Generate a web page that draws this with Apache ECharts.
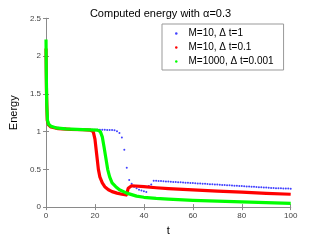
<!DOCTYPE html>
<html>
<head>
<meta charset="utf-8">
<script src="https://cdn.jsdelivr.net/npm/echarts@6/dist/echarts.min.js"></script>
<style>html,body{margin:0;padding:0;background:#fff}#c{width:321px;height:241px}</style>
</head>
<body>
<div id="c"></div>
<script>
// Series 1: M=10, dt=1  (t = 0..100 step 1)
const blueT = [0,1,2,3,4,5,6,7,8,9,10,11,12,13,14,15,16,17,18,19,20,21,22,23,24,25,26,27,28,29,30,31,32,33,34,35,36,37,38,39,40,41,42,43,44,45,46,47,48,49,50,51,52,53,54,55,56,57,58,59,60,61,62,63,64,65,66,67,68,69,70,71,72,73,74,75,76,77,78,79,80,81,82,83,84,85,86,87,88,89,90,91,92,93,94,95,96,97,98,99,100];
const blueE = [2.1,1.10,1.07,1.06,1.055,1.05,1.045,1.04,1.04,1.035,1.035,1.03,1.03,1.03,1.03,1.025,1.025,1.025,1.025,1.025,1.025,1.025,1.024,1.024,1.023,1.022,1.022,1.02,1.018,1.005,0.98,0.92,0.76,0.52,0.36,0.31,0.27,0.25,0.23,0.22,0.21,0.20,0.28,0.30,
0.350,0.348,0.346,0.344,0.342,0.340,0.338,0.336,0.334,0.332,0.330,
0.328,0.326,0.324,0.322,0.320,0.318,0.316,0.314,0.312,0.310,
0.308,0.306,0.304,0.302,0.300,0.298,0.296,0.294,0.292,0.290,
0.288,0.286,0.284,0.282,0.280,0.278,0.276,0.274,0.272,0.270,
0.268,0.266,0.264,0.262,0.260,0.258,0.256,0.254,0.252,0.250,
0.249,0.248,0.247,0.246,0.245,0.244];

// Series 2: M=10, dt=0.1 (read at key points)
const redT = [0,0.2,0.5,1,2,5,10,15,18,19.3,20,20.7,21.4,22,23,24,25.5,27,29,31,32.8,33.2,33.6,34.2,35,40,45,50,60,70,80,90,100];
const redE = [2.1,1.5,1.15,1.09,1.06,1.04,1.03,1.025,1.02,1.0,0.9,0.7,0.5,0.4,0.32,0.27,0.23,0.205,0.185,0.17,0.16,0.2,0.25,0.275,0.283,0.27,0.256,0.245,0.228,0.212,0.197,0.183,0.17];

// Series 3: M=1000, dt=0.001 (read at key points)
const greenT = [0,0.1,0.3,0.6,1,2,4,8,15,21,22.2,23,23.7,24.4,25.2,26,27,28.5,30,33,37,40,45,50,60,70,80,90,100];
const greenE = [2.22,1.8,1.35,1.15,1.1,1.07,1.05,1.035,1.025,1.02,1.0,0.93,0.8,0.66,0.5,0.4,0.32,0.27,0.23,0.185,0.145,0.13,0.115,0.105,0.09,0.079,0.068,0.058,0.05];

const seriesNames = ['M=10, \u0394 t=1', 'M=10, \u0394 t=0.1', 'M=1000, \u0394 t=0.001'];
const xTicks = [0, 20, 40, 60, 80, 100];
const yTicks = [0, 0.5, 1, 1.5, 2, 2.5];

const zip = (a, b) => a.map((v, i) => [v, b[i]]);
const FONT = 'Liberation Sans, Arial, Helvetica, sans-serif';
const axisCol = '#8a8a8a';

const chart = echarts.init(document.getElementById('c'), null, {renderer: 'canvas'});
const baseX = {
  type: 'value', min: xTicks[0], max: xTicks[xTicks.length - 1], interval: xTicks[1] - xTicks[0],
  axisLine: {show: true, lineStyle: {color: axisCol, width: 1}},
  axisTick: {show: true, inside: true, length: 3, lineStyle: {color: axisCol}},
  splitLine: {show: false}
};
const baseY = {
  type: 'value', min: yTicks[0], max: yTicks[yTicks.length - 1], interval: yTicks[1] - yTicks[0],
  axisLine: {show: true, lineStyle: {color: axisCol, width: 1}},
  axisTick: {show: true, inside: true, length: 3, lineStyle: {color: axisCol}},
  splitLine: {show: false}
};
chart.setOption({
  animation: false,
  backgroundColor: '#fff',
  title: {
    text: 'Computed energy with \u03b1=0.3', left: 'center', top: 3,
    textStyle: {fontFamily: FONT, fontSize: 11, fontWeight: 'normal', color: '#000'}
  },
  grid: {left: 41.6, right: 30.3, top: 18.3, bottom: 27.7},
  legend: {
    orient: 'vertical', left: 162, top: 24,
    backgroundColor: '#fff', borderColor: '#999', borderWidth: 1,
    padding: [3, 10, 2, 13], itemGap: 1,
    itemWidth: 2.5, itemHeight: 2.5, icon: 'circle',
    textStyle: {fontFamily: FONT, fontSize: 10, color: '#000', lineHeight: 13, padding: [0, 0, 0, 6]},
    data: seriesNames
  },
  xAxis: [
    Object.assign({}, baseX, {
      position: 'bottom', name: 't', nameLocation: 'middle', nameGap: 14,
      nameTextStyle: {fontFamily: FONT, fontSize: 11, color: '#000'},
      axisLabel: {show: true, margin: 5, fontFamily: FONT, fontSize: 8, color: '#444'}
    }),
    Object.assign({}, baseX, {position: 'top', axisLabel: {show: false}})
  ],
  yAxis: [
    Object.assign({}, baseY, {
      position: 'left', name: 'Energy', nameLocation: 'middle', nameGap: 16,
      nameTextStyle: {fontFamily: FONT, fontSize: 11, color: '#000'},
      axisLabel: {show: true, margin: 5, fontFamily: FONT, fontSize: 8, color: '#444'}
    }),
    Object.assign({}, baseY, {position: 'right', axisLabel: {show: false}})
  ],
  series: [
    {
      name: seriesNames[0], type: 'scatter', symbol: 'circle', symbolSize: 2,
      itemStyle: {color: '#1010ff'}, data: zip(blueT, blueE), z: 2
    },
    {
      name: seriesNames[1], type: 'line', showSymbol: false, smooth: false,
      lineStyle: {color: '#ff0000', width: 3.2, join: 'round', cap: 'butt'}, itemStyle: {color: '#ff0000'},
      data: zip(redT, redE), z: 3
    },
    {
      name: seriesNames[2], type: 'line', showSymbol: false, smooth: false,
      lineStyle: {color: '#00ff00', width: 3.2, join: 'round', cap: 'butt'}, itemStyle: {color: '#00ff00'},
      data: zip(greenT, greenE), z: 4
    }
  ]
});
</script>
</body>
</html>
